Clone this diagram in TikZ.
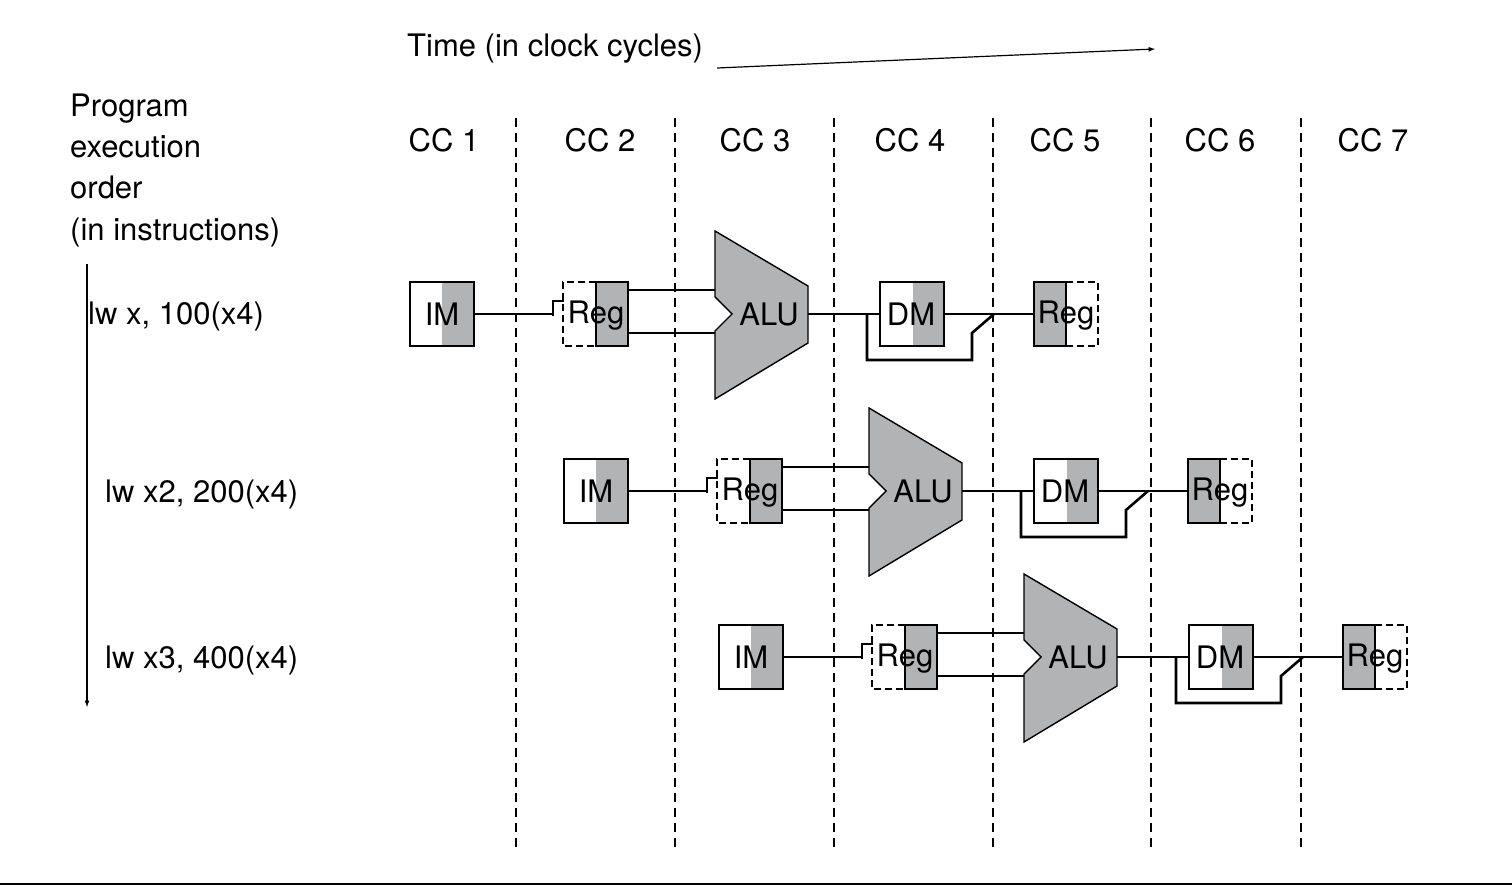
\documentclass[tikz,border=0pt]{standalone}
\usepackage{fontspec}
\setmainfont{TeX Gyre Heros}
\definecolor{pgray}{RGB}{178,179,181}
\tikzset{
  wire/.style={line width=2.6pt},
  cell/.style={line width=1.4pt},
  lbl/.style={inner sep=0pt, anchor=base},
}
\begin{document}
\begin{tikzpicture}[x=1pt, y=-1pt, font=\fontsize{31}{36}\selectfont]
    \useasboundingbox (0,0) rectangle (1512,890);

    % clock cycles
    \foreach \x in {516,675,834,993,1151,1301}
        \draw[line width=1.2pt, dash pattern=on 9pt off 6pt] (\x,118) -- (\x,850);
    \foreach \i/\x in {1/444,2/600,3/755,4/910,5/1065,6/1220,7/1373}
        \node[lbl] (cc\i) at (\x,152) {CC \i};

    \node[lbl, anchor=base west] (T) at (407,57) {Time (in clock cycles)};
    \coordinate (Tend) at (1155,49);
    \draw[-latex, line width=1.2pt] ([xshift=14pt, yshift=-11pt]T.base east) -- (Tend);

    \node[lbl, anchor=base west] (P1) at (70,117) {Program};
    \node[lbl, anchor=base west] (P2) at (70,158) {execution};
    \node[lbl, anchor=base west] (P3) at (70,199) {order};
    \node[lbl, anchor=base west] (P4) at (70,241) {(in instructions)};
    \coordinate (O1) at (87,264);
    \coordinate (O2) at (87,707);
    \draw[-latex, line width=1.2pt] (O1) -- (O2);

    \node[lbl, anchor=base west] (I1) at (88,325) {lw x, 100(x4)};
    \node[lbl, anchor=base west] (I2) at (105,502) {lw x2, 200(x4)};
    \node[lbl, anchor=base west] (I3) at (105,668) {lw x3, 400(x4)};

    % pipeline stages
    \foreach \r/\dx/\dy in {1/0/0, 2/154/177, 3/309/343} {
    \begin{scope}[shift={(\dx,\dy)}]
        % IM
        \fill[pgray] (442,282) rectangle (474,346);
        \draw[cell] (410,282) rectangle (474,346);
        \node[lbl, anchor=center] (im\r) at (442,314) {IM};
        \coordinate (imo\r) at (474,314);
        % Reg (read)
        \fill[pgray] (596,282) rectangle (628,346);
        \draw[cell, dash pattern=on 7pt off 4pt] (596,282) -- (563,282) -- (563,346) -- (596,346);
        \draw[cell] (596,282) rectangle (628,346);
        \node[lbl, anchor=center] (rg\r) at (596,316) {Reg};
        \coordinate (rgi\r) at (553,314);
        \draw[cell] (553,316) -- (553,301) -- (564,301);
        \coordinate (ra\r) at (628,290);
        \coordinate (rb\r) at (628,333);
        % ALU
        \fill[pgray, draw=black, cell] (715,231) -- (808,286) -- (808,343) -- (715,399)
            -- (715,331) -- (732,314) -- (715,297) -- cycle;
        \node[lbl, anchor=center] (alu\r) at (769,314) {ALU};
        \coordinate (aa\r) at (715,290);
        \coordinate (ab\r) at (715,333);
        \coordinate (ao\r) at (808,314);
        % DM
        \fill[pgray] (913,282) rectangle (944,346);
        \draw[cell] (880,282) rectangle (944,346);
        \node[lbl, anchor=center] (dm\r) at (911,314) {DM};
        \coordinate (di\r) at (880,314);
        \coordinate (do\r) at (944,314);
        \coordinate (mx\r) at (994,314);
        % Reg (write)
        \fill[pgray] (1034,282) rectangle (1066,346);
        \draw[cell] (1034,282) rectangle (1066,346);
        \draw[cell, dash pattern=on 7pt off 4pt] (1066,282) -- (1098,282) -- (1098,346) -- (1066,346);
        \node[lbl, anchor=center] (rw\r) at (1066,316) {Reg};
        \coordinate (rwi\r) at (1034,314);

        \draw[wire] (imo\r) -- (rgi\r);
        \draw[wire] (ra\r) -- (aa\r);
        \draw[wire] (rb\r) -- (ab\r);
        \draw[wire] (ao\r) -- (di\r);
        \draw[wire] (867,314) -- (867,360) -- (972,360) -- (972,333) -- (mx\r);
        \draw[wire] (do\r) -- (mx\r) -- (rwi\r);
    \end{scope}
    }

    \draw[line width=2pt] (0,884) -- (1512,884);
\end{tikzpicture}
\end{document}
